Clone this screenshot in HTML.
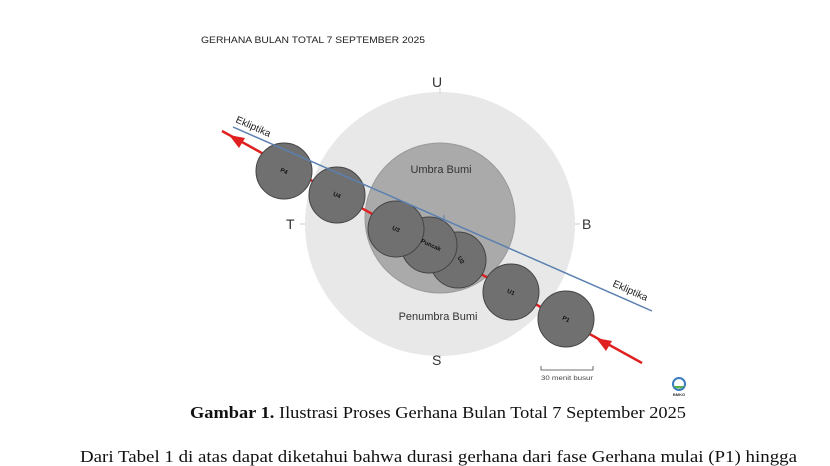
<!DOCTYPE html>
<html><head><meta charset="utf-8"><style>
html,body{margin:0;padding:0;background:#fff;width:830px;height:466px;overflow:hidden}
svg{display:block}
</style></head><body>
<svg width="830" height="466" viewBox="0 0 830 466" xmlns="http://www.w3.org/2000/svg">
<text x="201" y="43" font-family="Liberation Sans, sans-serif" font-size="9.5" fill="#222" textLength="224" lengthAdjust="spacingAndGlyphs">GERHANA BULAN TOTAL 7 SEPTEMBER 2025</text>
<ellipse cx="440" cy="224" rx="135" ry="132" fill="#e8e8e8"/>
<circle cx="440" cy="218" r="75" fill="#aaaaaa" stroke="#999" stroke-width="1"/>
<g stroke="#ccc" stroke-width="1"><line x1="440" y1="88" x2="440" y2="93"/><line x1="440" y1="355" x2="440" y2="360"/><line x1="300" y1="224" x2="305" y2="224"/><line x1="575" y1="224" x2="580" y2="224"/></g>
<g font-family="Liberation Sans, sans-serif" font-size="14" fill="#333">
<text x="432" y="87">U</text><text x="432" y="365">S</text><text x="286" y="229">T</text><text x="582" y="229">B</text>
</g>
<line x1="222" y1="131" x2="642" y2="363" stroke="#e02020" stroke-width="2.5"/>
<polygon points="229,135 245,138 239,148" fill="#e02020"/>
<polygon points="596,338 612,341 606,351" fill="#e02020"/>
<g fill="#707070" stroke="#444" stroke-width="1">
<circle cx="284" cy="171" r="28"/>
<circle cx="337" cy="195" r="28"/>
<circle cx="458" cy="260" r="28"/>
<circle cx="429" cy="245" r="28"/>
<circle cx="396" cy="229" r="28"/>
<circle cx="511" cy="292" r="28"/>
<circle cx="566" cy="319" r="28"/>
</g>
<line x1="233" y1="127" x2="652" y2="311" stroke="#5b80b0" stroke-width="1.5"/>
<line x1="444" y1="215" x2="444" y2="222" stroke="#5b80b0" stroke-width="1"/>
<g font-family="Liberation Sans, sans-serif" font-size="6" fill="#111" font-weight="bold" text-anchor="middle">
<text x="284" y="173" transform="rotate(25 284 171)">P4</text>
<text x="337" y="197" transform="rotate(25 337 195)">U4</text>
<text x="396" y="231" transform="rotate(25 396 229)">U3</text>
<text x="431" y="247" transform="rotate(25 431 245)">Puncak</text>
<text x="461" y="262" transform="rotate(60 461 260)">U2</text>
<text x="511" y="294" transform="rotate(25 511 292)">U1</text>
<text x="566" y="321" transform="rotate(25 566 319)">P1</text>
</g>
<g font-family="Liberation Sans, DejaVu Sans, sans-serif" font-size="10" fill="#222">
<text x="235" y="122" transform="rotate(24 235 122)">Ekliptika</text>
<text x="612" y="286" transform="rotate(24 612 286)">Ekliptika</text>
</g>
<g font-family="Liberation Sans, sans-serif" font-size="11" fill="#333" text-anchor="middle">
<text x="441" y="173">Umbra Bumi</text>
<text x="438" y="320">Penumbra Bumi</text>
</g>
<path d="M541 366 v4 h52 v-4" fill="none" stroke="#444" stroke-width="0.8"/>
<text x="541" y="380" font-family="Liberation Sans, sans-serif" font-size="6.5" fill="#444" textLength="52" lengthAdjust="spacingAndGlyphs">30 menit busur</text>
<circle cx="679" cy="384" r="6" fill="none" stroke="#3a7ac0" stroke-width="2"/>
<path d="M673 386 q6 5 12 0" fill="#5ab04a"/>
<text x="679" y="396" font-family="Liberation Sans, sans-serif" font-size="4" font-weight="bold" text-anchor="middle" fill="#333">BMKG</text>
<text x="190" y="418" font-family="Liberation Serif, serif" font-size="16.5" fill="#111" textLength="496" lengthAdjust="spacingAndGlyphs"><tspan font-weight="bold">Gambar 1.</tspan> Ilustrasi Proses Gerhana Bulan Total 7 September 2025</text>
<text x="80" y="462" font-family="Liberation Serif, serif" font-size="16.5" fill="#111" textLength="717" lengthAdjust="spacingAndGlyphs">Dari Tabel 1 di atas dapat diketahui bahwa durasi gerhana dari fase Gerhana mulai (P1) hingga</text>
</svg>
</body></html>
